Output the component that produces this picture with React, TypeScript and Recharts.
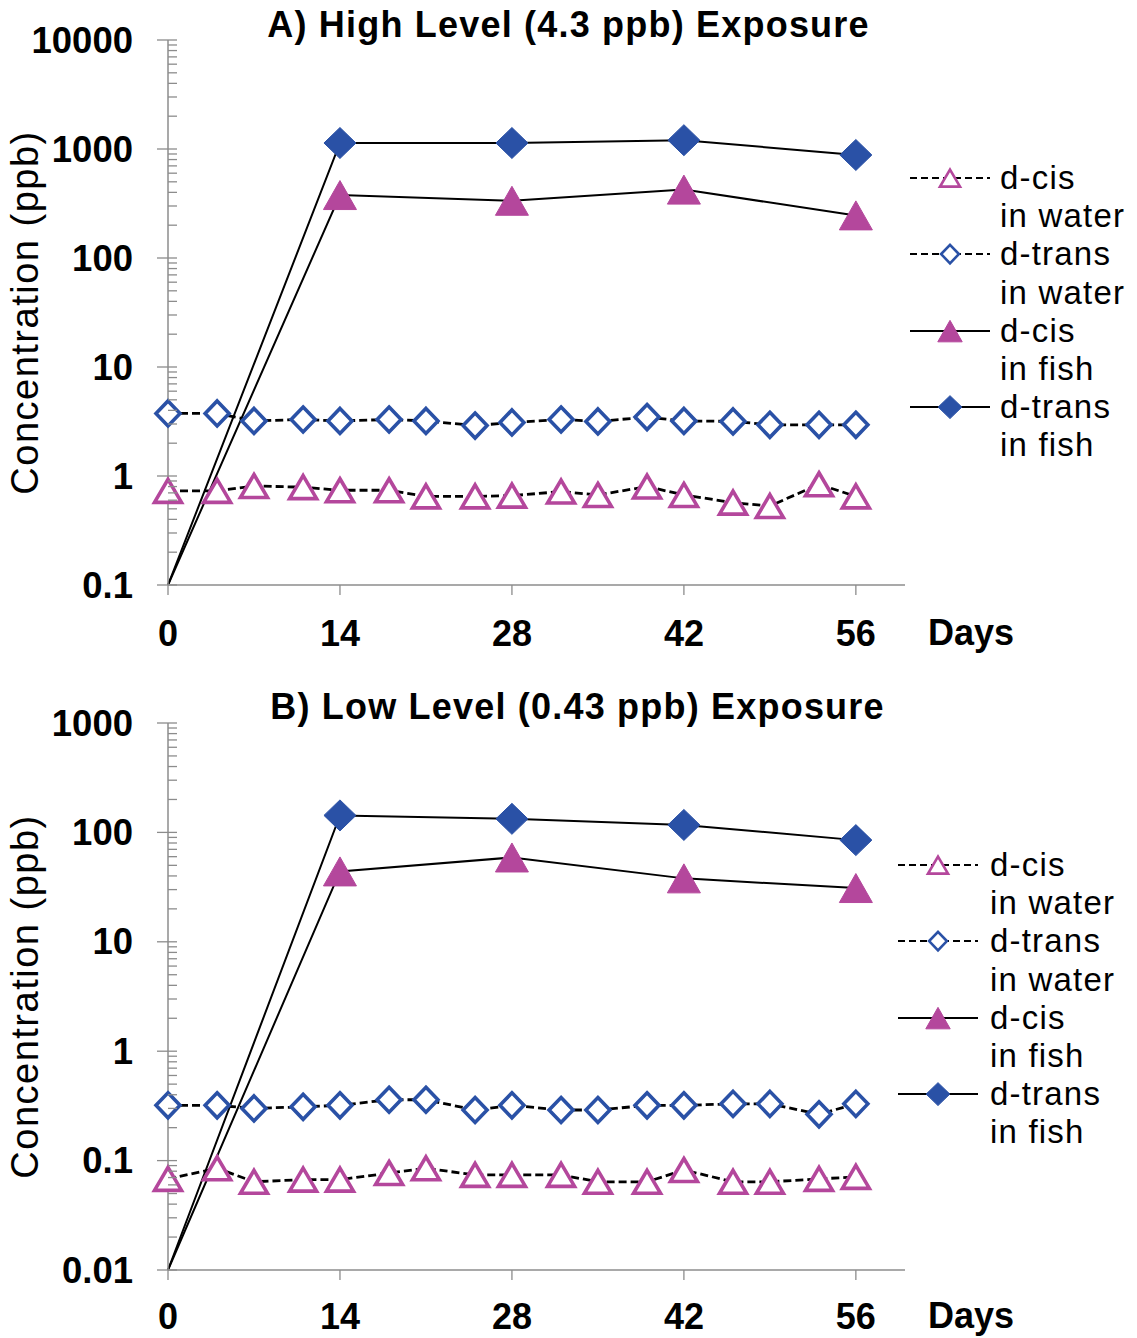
import { LineChart, Line, XAxis, YAxis, Legend } from 'recharts'

const FONT = "'Liberation Sans', Arial, Helvetica, sans-serif"
const MAGENTA = '#b4479c'
const BLUE = '#2a51a6'
const AXIS = '#8c8c8c'

// sampling days
const waterDays = [0, 4, 7, 11, 14, 18, 21, 25, 28, 32, 35, 39, 42, 46, 49, 53, 56]
const fishDays = [0, 14, 28, 42, 56]
const dayTicks = [0, 14, 28, 42, 56]

// A) high level (4.3 ppb) exposure, ppb
const highCisWater = [0.73, 0.73, 0.81, 0.79, 0.74, 0.74, 0.65, 0.65, 0.66, 0.72, 0.67, 0.8, 0.67, 0.57, 0.53, 0.84, 0.65]
const highTransWater = [3.75, 3.75, 3.2, 3.3, 3.2, 3.3, 3.2, 2.9, 3.1, 3.3, 3.17, 3.47, 3.2, 3.17, 2.95, 2.95, 2.95]
const highCisFish = [0.1, 378, 335, 424, 246]
const highTransFish = [0.1, 1135, 1135, 1205, 881]
const highTicks = [0.1, 1, 10, 100, 1000, 10000]

// B) low level (0.43 ppb) exposure, ppb
const lowCisWater = [0.068, 0.085, 0.064, 0.067, 0.067, 0.077, 0.085, 0.074, 0.074, 0.074, 0.064, 0.064, 0.082, 0.064, 0.064, 0.068, 0.071]
const lowTransWater = [0.32, 0.32, 0.3, 0.31, 0.32, 0.36, 0.36, 0.29, 0.32, 0.29, 0.29, 0.32, 0.32, 0.33, 0.33, 0.265, 0.33]
const lowCisFish = [0.01, 44, 59, 38, 31]
const lowTransFish = [0.01, 143, 133, 117, 85]
const lowTicks = [0.01, 0.1, 1, 10, 100, 1000]

type Shape = 'triangle' | 'diamond'
interface SeriesMeta {
  key: string
  name: string
  color: string
  shape: Shape
  filled: boolean
  fish: boolean
}

const SERIES: SeriesMeta[] = [
  { key: 'cisWater', name: 'd-cis\nin water', color: MAGENTA, shape: 'triangle', filled: false, fish: false },
  { key: 'transWater', name: 'd-trans\nin water', color: BLUE, shape: 'diamond', filled: false, fish: false },
  { key: 'cisFish', name: 'd-cis\nin fish', color: MAGENTA, shape: 'triangle', filled: true, fish: true },
  { key: 'transFish', name: 'd-trans\nin fish', color: BLUE, shape: 'diamond', filled: true, fish: true },
]

// one row per water sampling day, fish only on the days it was sampled
function buildRows(cisWater: number[], transWater: number[], cisFish: number[], transFish: number[]) {
  return waterDays.map((day, i) => {
    const f = fishDays.indexOf(day)
    return {
      day,
      cisWater: cisWater[i],
      transWater: transWater[i],
      cisFish: f >= 0 ? cisFish[f] : null,
      transFish: f >= 0 ? transFish[f] : null,
    }
  })
}

// decades plus 2..9 minor ticks in between
function withMinorTicks(majors: number[]) {
  const out = [...majors]
  for (let i = 0; i < majors.length - 1; i++) {
    for (let k = 2; k <= 9; k++) out.push(majors[i] * k)
  }
  return out.sort((a, b) => a - b)
}

function Marker({ meta, cx, cy, scale = 1 }: { meta: SeriesMeta; cx: number; cy: number; scale?: number }) {
  let w: number, h: number
  if (meta.filled) {
    ;[w, h] = meta.shape === 'triangle' ? [33, 29] : [32, 31]
  } else {
    ;[w, h] = meta.shape === 'triangle' ? [27, 23] : [24, 25]
  }
  w *= scale
  h *= scale
  const pts =
    meta.shape === 'triangle'
      ? `${cx},${cy - h / 2} ${cx + w / 2},${cy + h / 2} ${cx - w / 2},${cy + h / 2}`
      : `${cx},${cy - h / 2} ${cx + w / 2},${cy} ${cx},${cy + h / 2} ${cx - w / 2},${cy}`
  return (
    <polygon
      points={pts}
      fill={meta.filled ? meta.color : '#fff'}
      stroke={meta.color}
      strokeWidth={meta.filled ? 1 : 3.6 * scale}
    />
  )
}

const dotFor = (meta: SeriesMeta) => (props: any) => {
  const { cx, cy, payload, value, index } = props
  // fish lines start from the axis floor at day 0 without a marker
  if (cx == null || cy == null || value == null || Number.isNaN(cy) || (meta.fish && payload.day === 0)) {
    return <g key={index} />
  }
  return <Marker key={index} meta={meta} cx={cx} cy={cy} />
}

function formatTick(v: number) {
  return v >= 1 ? String(Math.round(v)) : String(v)
}

function LogTick(props: any) {
  const { x, y, payload } = props
  const lg = Math.log10(payload.value)
  const major = Math.abs(lg - Math.round(lg)) < 1e-6
  if (!major) {
    return <line x1={x} x2={x + 9} y1={y} y2={y} stroke={AXIS} strokeWidth={1.3} />
  }
  return (
    <g>
      <line x1={x - 11} x2={x + 9} y1={y} y2={y} stroke={AXIS} strokeWidth={1.3} />
      <text
        x={x - 35}
        y={y}
        textAnchor="end"
        dominantBaseline="central"
        fill="#000"
        fontSize={36.5}
        fontWeight={700}
        fontFamily={FONT}
      >
        {formatTick(payload.value)}
      </text>
    </g>
  )
}

function SeriesLegend({ payload, gap }: any) {
  const entries = SERIES.map((s) => ({ meta: s, entry: (payload || []).find((p: any) => p.dataKey === s.key) })).filter(
    (e) => e.entry
  )
  return (
    <div style={{ fontFamily: FONT, fontSize: 33, lineHeight: '38.2px', letterSpacing: 1.2, color: '#000' }}>
      {entries.map(({ meta, entry }) => {
        const [first, second] = String(entry.value).split('\n')
        return (
          <div key={meta.key} style={{ display: 'flex' }}>
            <svg width={gap} height={38.2} style={{ flex: 'none', display: 'block' }}>
              <line
                x1={0}
                x2={80}
                y1={19.1}
                y2={19.1}
                stroke="#000"
                strokeWidth={2}
                strokeDasharray={meta.fish ? undefined : '7 4'}
              />
              <Marker meta={meta} cx={40} cy={19.1} scale={0.74} />
            </svg>
            <div style={{ whiteSpace: 'nowrap' }}>
              {first}
              <br />
              {second}
            </div>
          </div>
        )
      })}
    </div>
  )
}

const CHART_W = 1137
const CHART_H = 720

interface PanelProps {
  title: string
  titleShift: number
  titleTop: number
  top: number
  rows: ReturnType<typeof buildRows>
  yTicks: number[]
  margin: { top: number; right: number; bottom: number; left: number }
  xAxisHeight: number
  xTickMargin: number
  legendLeft: number
  legendTop: number
  legendGap: number
}

function Panel(p: PanelProps) {
  const domain = [p.yTicks[0], p.yTicks[p.yTicks.length - 1]]
  return (
    <div style={{ position: 'absolute', left: 0, top: p.top, width: CHART_W, height: CHART_H }}>
      <LineChart width={CHART_W} height={CHART_H} data={p.rows} margin={p.margin}>
        <XAxis
          type="number"
          dataKey="day"
          domain={[0, 60]}
          ticks={dayTicks}
          interval={0}
          height={p.xAxisHeight}
          axisLine={{ stroke: AXIS, strokeWidth: 1.5 }}
          tickLine={{ stroke: AXIS, strokeWidth: 1.3 }}
          tickSize={10}
          tickMargin={p.xTickMargin}
          tick={{ fill: '#000', fontSize: 36, fontWeight: 700, fontFamily: FONT }}
          label={{
            value: 'Days',
            position: 'right',
            offset: 23,
            fill: '#000',
            fontSize: 36,
            fontWeight: 700,
            fontFamily: FONT,
          }}
        />
        <YAxis
          scale="log"
          domain={domain}
          ticks={withMinorTicks(p.yTicks)}
          interval={0}
          width={160}
          axisLine={{ stroke: AXIS, strokeWidth: 1.5 }}
          tickLine={false}
          tickSize={0}
          tickMargin={0}
          tick={(tp: any) => <LogTick {...tp} />}
          label={{
            content: (lp: any) => {
              const vb = lp.viewBox || { x: 8, y: p.margin.top, height: 545 }
              const cx = vb.x + 17
              const cy = vb.y + vb.height / 2
              return (
                <text
                  x={cx}
                  y={cy}
                  transform={`rotate(-90 ${cx} ${cy})`}
                  textAnchor="middle"
                  dominantBaseline="central"
                  fill="#000"
                  fontSize={38}
                  letterSpacing={1.5}
                  fontFamily={FONT}
                >
                  Concentration (ppb)
                </text>
              )
            },
          }}
        />
        <Legend
          layout="vertical"
          align="center"
          verticalAlign="middle"
          content={(lp: any) => <SeriesLegend {...lp} gap={p.legendGap} />}
          wrapperStyle={{ left: p.legendLeft, top: p.legendTop, width: 240 }}
        />
        {SERIES.map((s) => (
          <Line
            key={s.key}
            dataKey={s.key}
            name={s.name}
            type="linear"
            stroke="#000"
            strokeWidth={s.fish ? 2 : 2.8}
            strokeDasharray={s.fish ? undefined : '8 4'}
            connectNulls
            dot={dotFor(s)}
            activeDot={false}
            isAnimationActive={false}
          />
        ))}
      </LineChart>
      <div
        style={{
          position: 'absolute',
          left: p.titleShift,
          top: p.titleTop,
          width: CHART_W,
          textAlign: 'center',
          fontFamily: FONT,
          fontWeight: 700,
          fontSize: 36,
          lineHeight: '36px',
          letterSpacing: 1.2,
          color: '#000',
        }}
      >
        {p.title}
      </div>
    </div>
  )
}

export default function App() {
  const highRows = buildRows(highCisWater, highTransWater, highCisFish, highTransFish)
  const lowRows = buildRows(lowCisWater, lowTransWater, lowCisFish, lowTransFish)
  return (
    <div
      style={{
        position: 'absolute',
        left: 0,
        top: 0,
        width: 1137,
        height: 1338,
        overflow: 'hidden',
        background: '#fff',
      }}
    >
      <Panel
        title="A) High Level (4.3 ppb) Exposure"
        titleShift={0}
        titleTop={7}
        top={0}
        rows={highRows}
        yTicks={highTicks}
        margin={{ top: 40, right: 232, bottom: 41, left: 8 }}
        xAxisHeight={94}
        xTickMargin={25}
        legendLeft={910}
        legendTop={159}
        legendGap={90}
      />
      <Panel
        title="B) Low Level (0.43 ppb) Exposure"
        titleShift={9}
        titleTop={20}
        top={669}
        rows={lowRows}
        yTicks={lowTicks}
        margin={{ top: 54, right: 232, bottom: 29, left: 8 }}
        xAxisHeight={90}
        xTickMargin={23}
        legendLeft={898}
        legendTop={177}
        legendGap={92}
      />
    </div>
  )
}
